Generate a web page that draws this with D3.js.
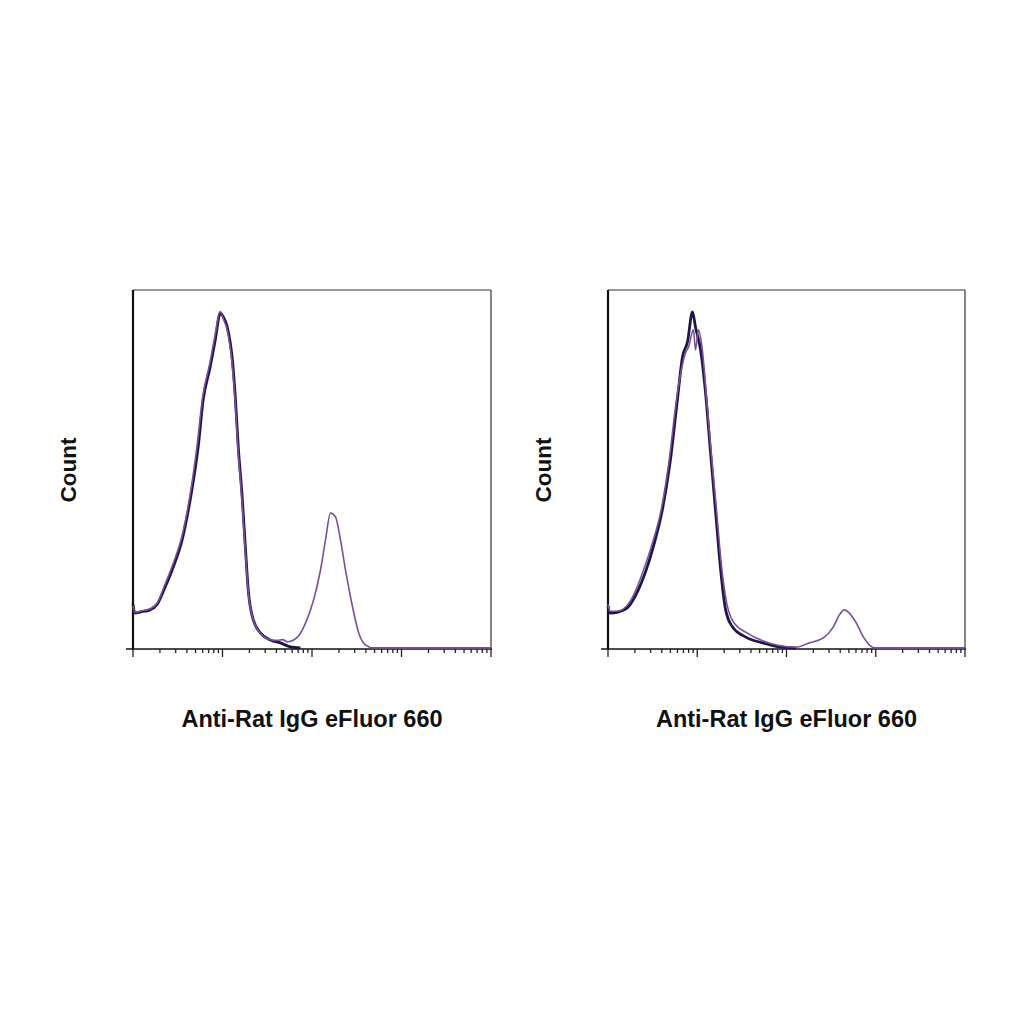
<!DOCTYPE html>
<html>
<head>
<meta charset="utf-8">
<script src="https://cdn.jsdelivr.net/npm/d3@7"></script>
<style>
  body { margin: 0; background: #fff; }
  text { font-family: "Liberation Sans", Arial, sans-serif; fill: #111; }
</style>
</head>
<body>
<svg id="chart"></svg>
<script>
// axis labels
const xLabel = "Anti-Rat IgG eFluor 660";
const yLabel = "Count";

// x domain (log, 4 decades) and y domain (count, % of max)
const xDomain = [1, 1e4];
const yDomain = [0, 100];

// left panel: isotype / unstained (dark) and stained (purple)
const leftControl = [
  [1.0, 12.5], [1.05, 10.0], [1.2, 10.3], [1.55, 10.9], [1.86, 12.4], [2.28, 17.2],
  [2.81, 22.8], [3.54, 30.4], [4.35, 41.5], [5.35, 56.3], [6.08, 69.4], [7.29, 78.6],
  [8.3, 86.1], [9.44, 93.6], [10.2, 92.5], [11.3, 89.7], [12.9, 80.5], [13.9, 70.2],
  [15.0, 56.3], [16.6, 42.3], [18.0, 28.4], [19.4, 16.4], [22.1, 8.1], [26.5, 4.5],
  [34.3, 2.5], [44.4, 1.7], [57.4, 0.6], [74.3, 0.3]
];
const leftStained = [
  [1.0, 12.0], [1.05, 10.2], [1.2, 10.5], [1.55, 11.2], [1.86, 12.8], [2.28, 18.0],
  [2.81, 23.8], [3.54, 31.6], [4.35, 43.0], [5.25, 57.5], [6.0, 70.2], [7.2, 79.5],
  [8.2, 87.0], [9.4, 94.0], [10.2, 92.0], [11.3, 88.8], [12.8, 79.5], [13.8, 69.5],
  [14.9, 55.5], [16.5, 41.5], [17.9, 27.8], [19.4, 16.0], [22.3, 7.8], [27.0, 4.2],
  [34.3, 2.6], [41.1, 2.4], [47.0, 2.6], [53.2, 2.0], [68.8, 3.3], [84.6, 7.2],
  [104, 13.6], [124.5, 22.0], [141.6, 30.4], [161, 37.9], [183, 36.8], [208, 30.4],
  [237, 22.0], [284, 11.7], [332, 4.5], [397, 1.1], [489, 0.3], [1e4, 0.3]
];

// right panel
const rightControl = [
  [1.0, 12.0], [1.05, 10.0], [1.3, 10.3], [1.68, 11.7], [2.18, 16.4], [2.61, 21.2],
  [3.21, 28.4], [4.06, 38.7], [5.0, 52.6], [5.99, 69.4], [6.82, 81.3], [7.77, 85.5],
  [8.84, 93.9], [9.55, 89.7], [10.9, 83.3], [12.4, 71.3], [14.1, 54.6], [16.1, 37.9],
  [18.3, 22.0], [20.8, 10.9], [24.9, 6.1], [35.0, 3.3], [54.3, 1.7], [82.3, 0.6],
  [128, 0.3]
];
const rightStained = [
  [1.0, 12.5], [1.05, 10.5], [1.3, 10.6], [1.68, 12.5], [2.1, 17.0], [2.5, 22.0],
  [3.1, 29.0], [4.0, 39.5], [4.9, 53.5], [5.85, 69.5], [6.6, 77.5], [7.4, 82.5],
  [7.97, 84.1], [9.07, 88.9], [9.55, 83.3], [10.3, 88.9], [11.5, 82.5], [12.6, 71.0],
  [14.3, 55.0], [16.4, 39.0], [18.7, 23.0], [21.5, 12.5], [26.0, 7.2], [36.0, 4.5],
  [54.0, 2.3], [82.0, 1.0], [128, 0.5], [179, 1.7], [258, 3.1], [334, 6.1],
  [391, 9.5], [445, 10.9], [506, 10.0], [607, 7.2], [728, 3.3], [851, 1.1],
  [968, 0.3], [1e4, 0.3]
];

const width = 1024, height = 1024;
const svg = d3.select("#chart").attr("width", width).attr("height", height);

const panels = [
  { left: 133, right: 491, series: [leftControl, leftStained] },
  { left: 608, right: 965, series: [rightControl, rightStained] }
];
const plotTop = 290, plotBottom = 649;
const colors = ["#1d1646", "#7a4f98"];
const widths = [2.8, 1.6];

panels.forEach(p => {
  const g = svg.append("g");

  const x = d3.scaleLog().domain(xDomain).range([p.left, p.right]);
  const y = d3.scaleLinear().domain(yDomain).range([plotBottom, plotTop]);

  // frame: top and right thin, left and bottom dark
  g.append("line")
    .attr("x1", p.left).attr("x2", p.right).attr("y1", plotTop).attr("y2", plotTop)
    .attr("stroke", "#333").attr("stroke-width", 1.2);
  g.append("line")
    .attr("x1", p.right).attr("x2", p.right).attr("y1", plotTop).attr("y2", plotBottom)
    .attr("stroke", "#333").attr("stroke-width", 1.2);
  g.append("line")
    .attr("x1", p.left).attr("x2", p.left).attr("y1", plotTop).attr("y2", plotBottom)
    .attr("stroke", "#111").attr("stroke-width", 2.2);

  // x axis with log minor ticks, no labels
  const ticks = x.ticks();
  const axis = g.append("g").attr("transform", `translate(0,${plotBottom})`);
  axis.append("line")
    .attr("x1", p.left - 7).attr("x2", p.right + 1)
    .attr("stroke", "#111").attr("stroke-width", 1.6);
  axis.selectAll(".tick")
    .data(ticks)
    .enter()
    .append("line")
    .attr("class", "tick")
    .attr("x1", d => x(d)).attr("x2", d => x(d))
    .attr("y1", 0)
    .attr("y2", d => Math.abs(Math.log10(d) - Math.round(Math.log10(d))) < 1e-6 ? 8 : 4)
    .attr("stroke", "#222").attr("stroke-width", 1.3);

  // histogram lines
  const line = d3.line()
    .x(d => x(d[0]))
    .y(d => y(d[1]))
    .curve(d3.curveMonotoneX);

  p.series.forEach((s, i) => {
    g.append("path")
      .datum(s)
      .attr("fill", "none")
      .attr("stroke", colors[i])
      .attr("stroke-width", widths[i])
      .attr("stroke-linejoin", "round")
      .attr("d", line);
  });

  // labels
  g.append("text")
    .attr("x", (p.left + p.right) / 2)
    .attr("y", 727)
    .attr("text-anchor", "middle")
    .attr("font-size", 23.5)
    .attr("font-weight", "bold")
    .text(xLabel);

  g.append("text")
    .attr("transform", `translate(${p.left - 57},470) rotate(-90)`)
    .attr("text-anchor", "middle")
    .attr("font-size", 22.5)
    .attr("font-weight", "bold")
    .text(yLabel);
});
</script>
</body>
</html>
